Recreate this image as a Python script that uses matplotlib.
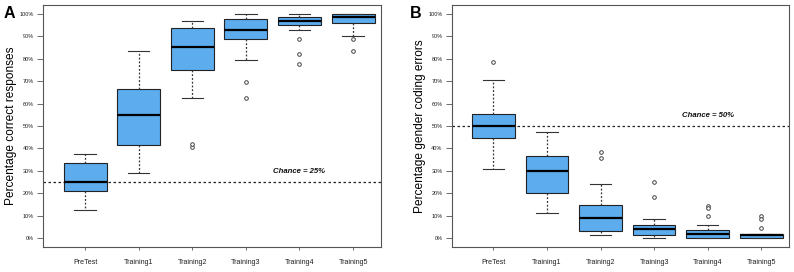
import matplotlib
matplotlib.use("Agg")
import matplotlib.pyplot as plt
from matplotlib.ticker import FuncFormatter

plt.rcParams['font.family'] = ['Liberation Sans', 'DejaVu Sans']

sessions = ["PreTest", "Training1", "Training2", "Training3", "Training4", "Training5"]

# panel A: percentage correct responses (whislo, q1, med, q3, whishi)
correct_whislo = [12.5, 29.2, 62.5, 79.2, 93.0, 90.3]
correct_q1 = [21.0, 41.7, 75.0, 88.8, 95.2, 95.8]
correct_med = [25.0, 54.8, 85.4, 93.0, 97.0, 98.7]
correct_q3 = [33.4, 66.7, 93.5, 97.8, 98.5, 100.0]
correct_whishi = [37.5, 83.3, 97.0, 100.0, 100.0, 100.0]
correct_fliers = [[], [], [40.5, 42.0], [69.4, 62.5], [88.9, 81.9, 77.7], [88.8, 83.3]]
chance_correct = 25

# panel B: percentage gender coding errors
errors_whislo = [30.6, 11.3, 1.5, 0.0, 0.0, 0.0]
errors_q1 = [44.7, 20.1, 3.0, 1.5, 0.0, 0.0]
errors_med = [49.9, 30.0, 8.8, 4.0, 2.0, 1.5]
errors_q3 = [55.4, 36.6, 14.7, 6.0, 3.5, 1.6]
errors_whishi = [70.7, 47.1, 23.9, 8.6, 5.8, 1.6]
errors_fliers = [[78.5], [], [38.4, 35.9], [25.1, 18.5], [14.4, 13.2, 10.0], [9.6, 8.5, 4.3]]
chance_errors = 50

BOX_COLOR = '#5CACEE'
FRAME = '#555555'


def draw_panel(ax, whislo, q1, med, q3, whishi, fliers, chance, ylabel, letter, letter_x):
    stats = []
    for i in range(len(sessions)):
        stats.append(dict(whislo=whislo[i], q1=q1[i], med=med[i], q3=q3[i],
                          whishi=whishi[i], fliers=fliers[i], label=sessions[i]))
    ax.bxp(stats, positions=range(1, 7), widths=0.8, capwidths=0.4,
           patch_artist=True,
           boxprops=dict(facecolor=BOX_COLOR, edgecolor='#222222', linewidth=0.8),
           medianprops=dict(color='black', linewidth=1.6),
           whiskerprops=dict(color='#333333', linestyle=(0, (1.5, 1.5)), linewidth=0.9),
           capprops=dict(color='#333333', linewidth=0.8),
           flierprops=dict(marker='o', markersize=2.6, markerfacecolor='white',
                           markeredgecolor='#444444', markeredgewidth=0.7))
    ax.axhline(chance, color='#222222', linestyle=(0, (2, 2)), linewidth=0.9, zorder=0)
    ax.text(5, chance + 4.6, f"Chance = {chance}%",
            fontsize=5.6, fontweight='bold', fontstyle='italic',
            ha='center', va='center', color='#111111')
    ax.set_xlim(0.22, 6.52)
    ax.set_ylim(-4, 104)
    ax.set_yticks(range(0, 101, 10))
    ax.yaxis.set_major_formatter(FuncFormatter(lambda v, p: f"{int(v)}%"))
    ax.tick_params(axis='y', labelsize=4.0, length=4, width=0.6, color=FRAME,
                   labelcolor='#222222', pad=2.5)
    ax.tick_params(axis='x', labelsize=5.1, length=2.5, width=0.6, color=FRAME,
                   labelcolor='#222222', pad=6)
    for s in ax.spines.values():
        s.set_color(FRAME)
        s.set_linewidth(0.8)
    ax.set_ylabel(ylabel, fontsize=8.6)
    ax.yaxis.set_label_coords(-0.077, 0.5)
    ax.text(letter_x, 0.997, letter, transform=ax.transAxes, fontsize=11.5,
            fontweight='bold', ha='center', va='top')


fig = plt.figure(figsize=(7.94, 2.72), dpi=100)
axA = fig.add_axes([0.0545, 0.092, 0.4253, 0.890])
axB = fig.add_axes([0.5689, 0.092, 0.4248, 0.890])

draw_panel(axA, correct_whislo, correct_q1, correct_med, correct_q3, correct_whishi,
           correct_fliers, chance_correct, "Percentage correct responses", "A", -0.100)
draw_panel(axB, errors_whislo, errors_q1, errors_med, errors_q3, errors_whishi,
           errors_fliers, chance_errors, "Percentage gender coding errors", "B", -0.106)

fig.savefig("out.png", dpi=100)
